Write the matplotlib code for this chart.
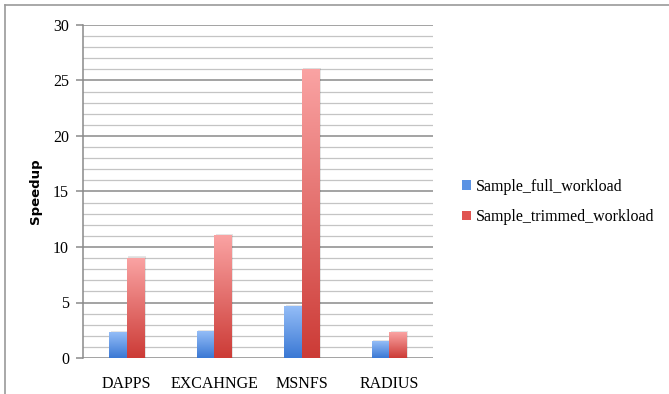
import numpy as np
import matplotlib
matplotlib.use("Agg")
import matplotlib.pyplot as plt
from matplotlib.colors import LinearSegmentedColormap
from matplotlib.patches import Rectangle
from matplotlib.lines import Line2D

categories = ["DAPPS", "EXCAHNGE", "MSNFS", "RADIUS"]
full_workload = [2.3, 2.4, 4.6, 1.5]
trimmed_workload = [9.0, 11.0, 26.0, 2.3]
series_names = ["Sample_full_workload", "Sample_trimmed_workload"]
y_ticks = [0, 5, 10, 15, 20, 25, 30]

plt.rcParams["font.family"] = ["Liberation Serif", "DejaVu Serif"]

fig = plt.figure(figsize=(6.69, 3.94), dpi=100)
ax = fig.add_axes([83 / 669, 1 - 358 / 394, 350 / 669, 333 / 394])

# outer frame of the chart area (top and left edges)
fig.add_artist(Line2D([5 / 669, 1.0], [1 - 4.5 / 394] * 2, color="#9a9a9a", lw=1.2,
                      transform=fig.transFigure))
fig.add_artist(Line2D([5 / 669] * 2, [0, 1 - 4.5 / 394], color="#9a9a9a", lw=1.2,
                      transform=fig.transFigure))

# minor and major horizontal gridlines
for v in range(0, 31):
    major = v % 5 == 0
    ax.axhline(v, color="#8a8a8a" if major else "#c4c4c4",
               lw=1.1 if major else 0.9, zorder=0)

blue_cmap = LinearSegmentedColormap.from_list("blue", ["#3a78d4", "#94bdf7"])
red_cmap = LinearSegmentedColormap.from_list("red", ["#cc3b36", "#faa3a3"])
grad = np.linspace(0, 1, 256).reshape(-1, 1)

bar_w = 0.2
x = np.arange(len(categories)) + 0.5
for xs, vals, cmap in [(x - bar_w / 2, full_workload, blue_cmap),
                       (x + bar_w / 2, trimmed_workload, red_cmap)]:
    for xc, v in zip(xs, vals):
        left = xc - bar_w / 2
        # soft shadow behind the bar
        ax.add_patch(Rectangle((left + 0.015, 0), bar_w, v + 0.15,
                               facecolor="#000000", alpha=0.10, lw=0, zorder=2))
        ax.imshow(grad, cmap=cmap, origin="lower", aspect="auto",
                  extent=(left, left + bar_w, 0, v), zorder=3,
                  interpolation="bilinear")

ax.set_xlim(0, len(categories))
ax.set_ylim(0, 30)

for s in ["top", "right", "bottom"]:
    ax.spines[s].set_visible(False)
ax.spines["left"].set_color("#8a8a8a")
ax.spines["left"].set_linewidth(1.1)

ax.set_yticks(y_ticks)
ax.set_yticklabels([str(t) for t in y_ticks], fontsize=11.5)
ax.tick_params(axis="y", length=5, color="#8a8a8a", width=1.1, pad=5)
ax.set_xticks(x)
ax.set_xticklabels(categories, fontsize=11.5)
ax.tick_params(axis="x", length=0, pad=13)

ax.set_ylabel("Speedup", fontsize=9.5, fontweight="bold",
              fontfamily=["DejaVu Sans"], labelpad=8)

handles = [Rectangle((0, 0), 1, 1, facecolor="#5b93e4"),
           Rectangle((0, 0), 1, 1, facecolor="#e05451")]
leg = fig.legend(handles, series_names, loc="center left",
                 bbox_to_anchor=(448 / 669, 1 - 202 / 394), frameon=False,
                 prop={"size": 11.5}, handlelength=0.55,
                 handleheight=0.55, handletextpad=0.3, labelspacing=0.9)

fig.savefig("out.png", dpi=100)
